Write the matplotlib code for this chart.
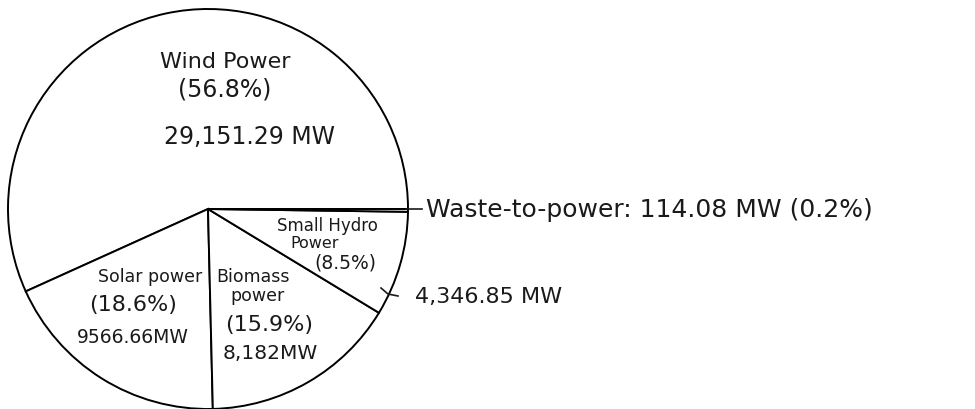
import matplotlib.pyplot as plt

# Renewable energy installed capacity (MW)
sources = ["Wind Power", "Solar power", "Biomass power", "Small Hydro Power", "Waste-to-power"]
capacity_mw = [29151.29, 9566.66, 8182.0, 4346.85, 114.08]
capacity_text = ["29,151.29 MW", "9566.66MW", "8,182MW", "4,346.85 MW", "114.08 MW"]

total = sum(capacity_mw)
shares = [100 * v / total for v in capacity_mw]

fig = plt.figure(figsize=(9.75, 4.1), dpi=100)
ax = fig.add_axes([0, 0, 1, 1])

cx, cy, r = 208, 210, 200
wedges, _ = ax.pie(
    capacity_mw,
    startangle=0,
    counterclock=False,
    radius=r,
    center=(cx, cy),
    colors=["white"] * len(capacity_mw),
    wedgeprops=dict(edgecolor="black", linewidth=1.4),
    frame=True,
)
# full canvas in pixel-like units, y grows downward
ax.set_xlim(0, 975)
ax.set_ylim(410, 0)
ax.set_aspect("equal")
ax.axis("off")

ink = "#1a1a1a"


def label(x, y, s, size, ha="center"):
    ax.text(x, y, s, color=ink, ha=ha, va="center", fontsize=size,
            family="DejaVu Sans")


# Wind
label(225, 62, sources[0], 16)
label(225, 89, f"({shares[0]:.1f}%)", 17)
label(249, 137, capacity_text[0], 17)

# Solar
label(150, 277, sources[1], 12.5)
label(133, 305, f"({shares[1]:.1f}%)", 16)
label(133, 338, capacity_text[1], 13.5)

# Biomass
label(253, 277, "Biomass", 12.5)
label(257, 296, "power", 12.5)
label(269, 325, f"({shares[2]:.1f}%)", 16)
label(270, 354, capacity_text[2], 14.5)

# Small hydro
label(327, 226, "Small Hydro", 12)
label(315, 244, "Power", 11.5)
label(345, 263, f"({shares[3]:.1f}%)", 13.5)
ax.plot([381, 388, 398], [289, 295, 297], color=ink, lw=1.2)
label(415, 297, capacity_text[3], 16, ha="left")

# Waste-to-power
ax.plot([cx + r - 2, 422], [210, 210], color=ink, lw=1.2)
label(426, 210, f"Waste-to-power: {capacity_text[4]} ({shares[4]:.1f}%)", 18, ha="left")

fig.savefig("out.png", dpi=100, facecolor="white")
